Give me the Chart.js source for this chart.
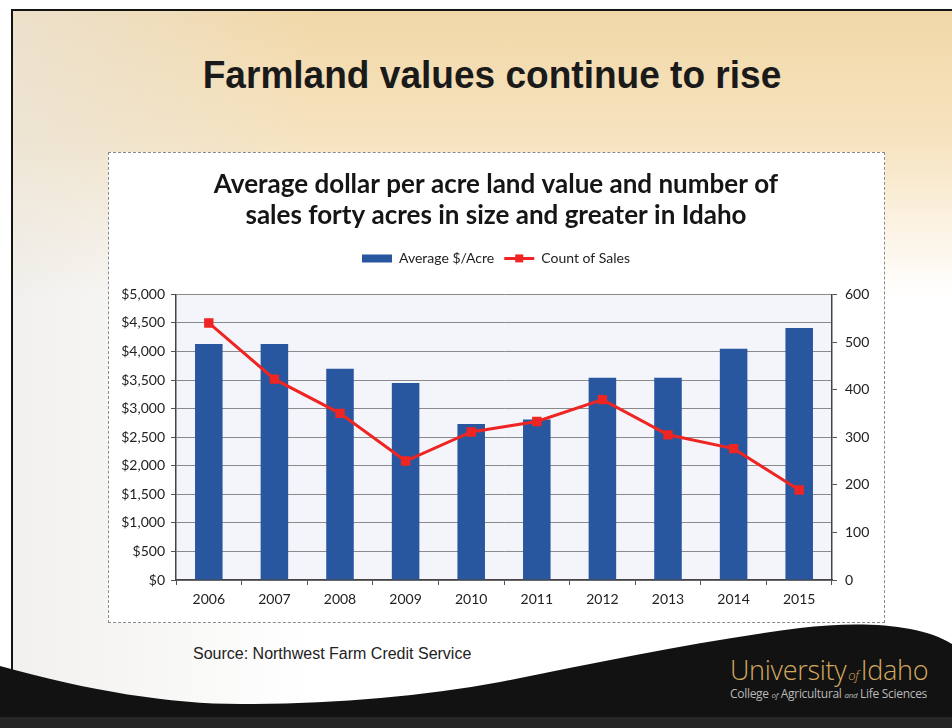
<!DOCTYPE html>
<html>
<head>
<meta charset="utf-8">
<script src="https://cdn.jsdelivr.net/npm/chart.js"></script>
<style>
html, body { margin: 0; padding: 0; }
body { width: 952px; height: 728px; position: relative; overflow: hidden; background: #fff; font-family: "Liberation Sans", Arial, sans-serif; }
#slide {
    position: absolute; left: 11px; top: 9px; right: 0; bottom: 0;
    border-top: 2px solid #151515; border-left: 2px solid #151515;
    background:
        linear-gradient(to right, rgba(232,230,226,0.6) 0%, rgba(255,255,255,0) 32%),
        linear-gradient(to bottom, #f2d8a8 0%, #f6e3bf 18%, #fbf0dd 28%, #ffffff 40%);
}
#heading {
    position: absolute; left: 0; top: 53px; width: 984px; text-align: center;
    font: bold 39px "Liberation Sans", Arial, sans-serif; color: #1a1a1a;
    transform: scaleX(0.95); transform-origin: 492px 0;
}
#box {
    position: absolute; left: 108px; top: 152px; width: 775px; height: 469px;
    background: #fff; border: 1px dashed #8a8a8a;
}
#swoosh { position: absolute; left: 0; top: 0; }
#source { position: absolute; left: 193px; top: 645px; font: 16px "Liberation Sans", Arial, sans-serif; color: #222; }
#logo { position: absolute; left: 730px; top: 651px; color: #d3a960; font: 300 27px "Open Sans", sans-serif; letter-spacing: -0.3px; white-space: nowrap; }
#logo i { font-size: 13px; font-style: italic; margin: 0 2px; }
#college { position: absolute; left: 730px; top: 685px; color: #b9b9b9; font: 12px "Open Sans", sans-serif; white-space: nowrap; letter-spacing: -0.3px; }
#college i { font-size: 8px; }
#graph { position: absolute; left: 40px; top: 0; }
</style>
</head>
<body>
<div id="slide"></div>
<div id="heading">Farmland values continue to rise</div>
<div id="box"></div>
<svg id="swoosh" width="952" height="728">
    <path d="M0,666 C90,691 170,704 240,704 C330,704 420,697 500,682 C600,662 700,641 800,628 C860,621 920,624 952,644 L952,728 L0,728 Z" fill="#121212"/>
    <rect x="0" y="717" width="952" height="11" fill="#262626"/>
</svg>
<div id="source">Source: Northwest Farm Credit Service</div>
<div id="logo">University<i>of</i>Idaho</div>
<div id="college">College <i>of</i> Agricultural <i>and</i> Life Sciences</div>
<canvas id="graph" width="912" height="728"></canvas>
<script>
var years = ['2006', '2007', '2008', '2009', '2010', '2011', '2012', '2013', '2014', '2015'];
var avgValue = [4130, 4130, 3700, 3450, 2730, 2810, 3540, 3540, 4050, 4410];
var salesCount = [540, 422, 350, 250, 311, 333, 379, 305, 276, 189];
var chartTitle = ['Average dollar per acre land value and number of', 'sales forty acres in size and greater in Idaho'];
var seriesNames = ['Average $/Acre', 'Count of Sales'];

var blue = '#29579f';
var red = '#ee2522';
var tickFont = {family: 'Lato', size: 14};

// fills the plot area and adds the square marker on the line legend item
var decor = {
    id: 'decor',
    beforeInit: function(chart){
        var fit = chart.legend.fit;
        chart.legend.fit = function(){
            fit.call(this);
            this.height += 19;
        };
    },
    beforeDraw: function(chart){
        var a = chart.chartArea;
        var c = chart.ctx;
        c.save();
        c.fillStyle = '#f4f5fa';
        c.fillRect(a.left, a.top, a.right - a.left, a.bottom - a.top);
        c.restore();
    },
    afterDraw: function(chart){
        var boxes = chart.legend.legendHitBoxes;
        if(!boxes || boxes.length < 2) return;
        var b = boxes[1];
        var c = chart.ctx;
        c.save();
        c.fillStyle = red;
        c.fillRect(b.left + 15 - 4, b.top + b.height / 2 - 4, 8, 8);
        c.restore();
    }
};

var ctx = document.getElementById('graph').getContext('2d');
var chart = new Chart(ctx, {
    type: 'bar',
    data: {
        labels: years,
        datasets: [
            {
                type: 'bar',
                label: seriesNames[0],
                data: avgValue,
                backgroundColor: blue,
                borderWidth: 0,
                barPercentage: 0.42,
                categoryPercentage: 1,
                pointStyle: 'rect',
                yAxisID: 'y',
                order: 1
            },
            {
                type: 'line',
                label: seriesNames[1],
                data: salesCount,
                borderColor: red,
                backgroundColor: red,
                borderWidth: 3,
                pointStyle: 'rect',
                pointRadius: 4.5,
                pointBackgroundColor: red,
                pointBorderColor: red,
                tension: 0,
                yAxisID: 'y1',
                order: 0
            }
        ]
    },
    options: {
        responsive: false,
        animation: false,
        layout: {padding: {left: 0, right: 0, top: 0, bottom: 108}},
        plugins: {
            tooltip: {enabled: false},
            title: {
                display: true,
                text: chartTitle,
                color: '#151515',
                font: {family: 'Lato', size: 26, weight: 'bold', lineHeight: 1.2},
                padding: {top: 169, bottom: 10}
            },
            legend: {
                labels: {
                    usePointStyle: true,
                    pointStyleWidth: 30,
                    boxHeight: 8,
                    padding: 10,
                    color: '#222',
                    font: tickFont,
                    sort: function(a, b){ return a.datasetIndex - b.datasetIndex; },
                    generateLabels: function(ch){
                        var items = Chart.defaults.plugins.legend.labels.generateLabels(ch);
                        items.forEach(function(it){
                            if(it.datasetIndex === 1){
                                it.pointStyle = 'line';
                                it.lineWidth = 3;
                                it.strokeStyle = red;
                            }else{
                                it.pointStyle = 'rect';
                                it.lineWidth = 0;
                            }
                        });
                        return items;
                    }
                }
            }
        },
        scales: {
            x: {
                offset: true,
                afterFit: function(s){ s.height = 40; },
                grid: {offset: true, drawOnChartArea: false, tickLength: 5, tickColor: '#555'},
                border: {color: '#444', width: 1.5},
                ticks: {color: '#222', font: tickFont, padding: 6, maxRotation: 0}
            },
            y: {
                position: 'left',
                min: 0,
                max: 5000,
                afterFit: function(s){ s.width = 136; },
                grid: {color: '#8a8a8a', lineWidth: 1, tickLength: 5, tickColor: '#555'},
                border: {color: '#444', width: 1.5},
                ticks: {
                    stepSize: 500,
                    color: '#222',
                    font: tickFont,
                    padding: 6,
                    callback: function(v){ return '$' + v.toLocaleString('en-US'); }
                }
            },
            y1: {
                position: 'right',
                min: 0,
                max: 600,
                afterFit: function(s){ s.width = 120; },
                grid: {drawOnChartArea: false, tickLength: 5, tickColor: '#555'},
                border: {color: '#444', width: 1.5},
                ticks: {stepSize: 100, color: '#222', font: tickFont, padding: 8}
            }
        }
    },
    plugins: [decor]
});
</script>
</body>
</html>
